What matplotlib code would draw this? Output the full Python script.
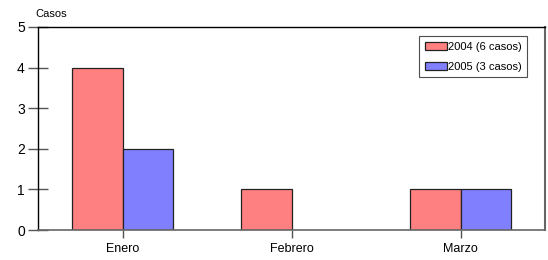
import numpy as np
import matplotlib.pyplot as plt

meses = ["Enero", "Febrero", "Marzo"]
casos_2004 = [4, 1, 1]
casos_2005 = [2, 0, 1]
etiquetas = ["2004 (6 casos)", "2005 (3 casos)"]
yticks = [0, 1, 2, 3, 4, 5]

plt.rcParams['font.family'] = ['Liberation Sans', 'DejaVu Sans']

fig = plt.figure(figsize=(5.48, 2.6), dpi=100)
ax = fig.add_axes([38 / 548, 30 / 260, 507 / 548, 203 / 260])

x = np.arange(len(meses))
ancho = 0.296
ax.bar(x - ancho, casos_2004, ancho, align='edge', color='#ff8080',
       edgecolor='#222222', linewidth=0.9, label=etiquetas[0])
b2 = ax.bar(x, casos_2005, ancho, align='edge', color='#8080ff',
            edgecolor='#222222', linewidth=0.9, label=etiquetas[1])
for b, v in zip(b2, casos_2005):
    if v == 0:
        b.set_visible(False)

ax.set_xlim(-0.5, 2.5)
ax.set_ylim(0, 5)
ax.set_xticks(x)
ax.set_xticklabels(meses, fontsize=9)
ax.set_yticks(yticks)
ax.tick_params(axis='y', direction='inout', length=15, width=1, color='#555555',
               labelsize=10, pad=2)
ax.tick_params(axis='x', direction='out', length=6, width=1, color='#555555',
               pad=3)

for s in ['left', 'top']:
    ax.spines[s].set_color('black')
    ax.spines[s].set_linewidth(1)
ax.spines['right'].set_color('#666666')
ax.spines['right'].set_linewidth(1.5)
ax.spines['bottom'].set_color('#666666')
ax.spines['bottom'].set_linewidth(1.2)

fig.text(35 / 548, 1 - 14 / 260, "Casos", fontsize=8, va='center', ha='left')

leg = ax.legend(loc='upper right', bbox_to_anchor=(0.965, 0.955), fontsize=8,
                frameon=True, fancybox=False, handlelength=2.0, handleheight=0.8,
                handletextpad=0.1, borderpad=0.5, labelspacing=0.9,
                borderaxespad=0)
leg.get_frame().set_edgecolor('#222222')
leg.get_frame().set_linewidth(0.8)

fig.savefig("out.png", dpi=100)
